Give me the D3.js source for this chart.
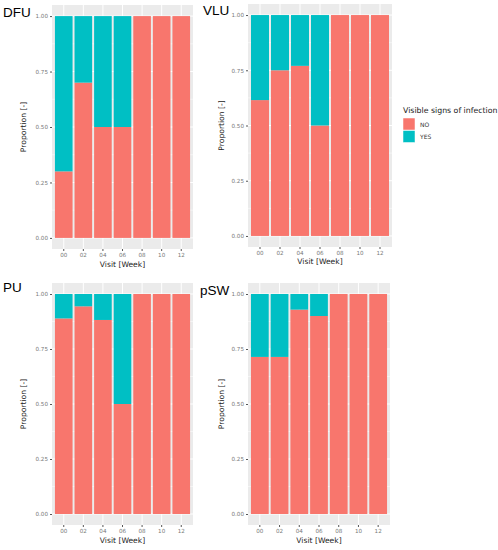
<!DOCTYPE html>
<html>
<head>
<meta charset="utf-8">
<script src="https://cdn.jsdelivr.net/npm/d3@7"></script>
<style>
  body { margin: 0; background: #fff; }
  svg { display: block; }
</style>
</head>
<body>
<svg class="chart" width="498" height="550"></svg>
<script>
// visits on the x axis
var weeks = ["00", "02", "04", "06", "08", "10", "12"];
var groups = ["NO", "YES"];
var yTicks = [0, 0.25, 0.5, 0.75, 1];
var yTickLabels = ["0.00", "0.25", "0.50", "0.75", "1.00"];

// proportion per visit
var noDFU  = [0.30, 0.70, 0.50, 0.50, 1, 1, 1];
var yesDFU = [0.70, 0.30, 0.50, 0.50, 0, 0, 0];
var noVLU  = [0.615, 0.75, 0.77, 0.50, 1, 1, 1];
var yesVLU = [0.385, 0.25, 0.23, 0.50, 0, 0, 0];
var noPU   = [0.889, 0.944, 0.882, 0.50, 1, 1, 1];
var yesPU  = [0.111, 0.056, 0.118, 0.50, 0, 0, 0];
var noPSW  = [0.714, 0.714, 0.929, 0.90, 1, 1, 1];
var yesPSW = [0.286, 0.286, 0.071, 0.10, 0, 0, 0];

var fill = d3.scaleOrdinal().domain(groups).range(["#F8766D", "#00BFC4"]);

var svg = d3.select("svg.chart");
var tickFont = "'DejaVu Sans', sans-serif";

var panel = function(title, no, yes, box) {
  var data = weeks.map(function(w, i) { return {week: w, NO: no[i], YES: yes[i]}; });

  var x = d3.scaleBand()
    .domain(weeks)
    .range([box.left, box.right])
    .paddingInner(0.1)
    .paddingOuter(0.15);

  var y = d3.scaleLinear()
    .domain([-0.05, 1.05])
    .range([box.bottom, box.top]);

  var g = svg.append("g");

  // panel background + grid
  g.append("rect")
    .attr("x", box.left).attr("y", box.top)
    .attr("width", box.right - box.left).attr("height", box.bottom - box.top)
    .attr("fill", "#EBEBEB");

  g.append("g").selectAll("line")
    .data([0.125, 0.375, 0.625, 0.875])
    .enter().append("line")
      .attr("x1", box.left).attr("x2", box.right)
      .attr("y1", function(d) { return y(d); }).attr("y2", function(d) { return y(d); })
      .attr("stroke", "#fff").attr("stroke-width", 0.5);

  g.append("g").selectAll("line")
    .data(yTicks)
    .enter().append("line")
      .attr("x1", box.left).attr("x2", box.right)
      .attr("y1", function(d) { return y(d); }).attr("y2", function(d) { return y(d); })
      .attr("stroke", "#fff").attr("stroke-width", 1);

  g.append("g").selectAll("line")
    .data(weeks)
    .enter().append("line")
      .attr("x1", function(d) { return x(d) + x.bandwidth() / 2; })
      .attr("x2", function(d) { return x(d) + x.bandwidth() / 2; })
      .attr("y1", box.top).attr("y2", box.bottom)
      .attr("stroke", "#fff").attr("stroke-width", 1);

  // stacked bars, NO at the bottom
  var series = d3.stack().keys(groups)(data);

  g.append("g")
    .selectAll("g")
    .data(series)
    .enter().append("g")
      .attr("fill", function(d) { return fill(d.key); })
    .selectAll("rect")
    .data(function(d) { return d; })
    .enter().append("rect")
      .attr("x", function(d) { return x(d.data.week); })
      .attr("y", function(d) { return y(d[1]); })
      .attr("width", x.bandwidth())
      .attr("height", function(d) { return y(d[0]) - y(d[1]); });

  // axes
  var ax = g.append("g")
    .attr("transform", "translate(0," + box.bottom + ")")
    .call(d3.axisBottom(x).tickSize(2).tickPadding(2));
  var ay = g.append("g")
    .attr("transform", "translate(" + box.left + ",0)")
    .call(d3.axisLeft(y).tickValues(yTicks).tickFormat(function(d, i) { return yTickLabels[i]; }).tickSize(2).tickPadding(2));

  [ax, ay].forEach(function(a) {
    a.select(".domain").remove();
    a.selectAll("line").attr("stroke", "#555");
    a.selectAll("text").attr("fill", "#777").style("font-family", tickFont).style("font-size", "5.6px");
  });

  g.append("text")
    .attr("x", (box.left + box.right) / 2)
    .attr("y", box.xTitle)
    .attr("text-anchor", "middle")
    .style("font-family", tickFont).style("font-size", "7.6px").attr("fill", "#222")
    .text("Visit [Week]");

  g.append("text")
    .attr("transform", "translate(" + box.yTitle + "," + ((box.top + box.bottom) / 2) + ") rotate(-90)")
    .attr("text-anchor", "middle")
    .style("font-family", tickFont).style("font-size", "7.6px").attr("fill", "#222")
    .text("Proportion [-]");

  g.append("text")
    .attr("x", box.tx).attr("y", box.ty)
    .style("font-family", "'Liberation Sans', Arial, sans-serif").style("font-size", "13.5px")
    .attr("fill", "#000")
    .text(title);
};

panel("DFU", noDFU, yesDFU, {left: 52, right: 193, top: 5, bottom: 249, xTitle: 267, yTitle: 26, tx: 3, ty: 17});
panel("VLU", noVLU, yesVLU, {left: 248, right: 392, top: 4, bottom: 247, xTitle: 264, yTitle: 224, tx: 203, ty: 15});
panel("PU", noPU, yesPU, {left: 52, right: 193, top: 283, bottom: 525, xTitle: 543, yTitle: 26, tx: 3, ty: 292});
panel("pSW", noPSW, yesPSW, {left: 248, right: 390, top: 283, bottom: 525, xTitle: 543, yTitle: 224, tx: 200, ty: 295});

// legend
var legend = svg.append("g").attr("transform", "translate(403,0)");
legend.append("text")
  .attr("x", 0).attr("y", 113)
  .style("font-family", tickFont).style("font-size", "7.8px").attr("fill", "#222")
  .text("Visible signs of infection");
legend.selectAll("rect")
  .data(groups)
  .enter().append("rect")
    .attr("x", 0)
    .attr("y", function(d, i) { return 118 + i * 12.5; })
    .attr("width", 12).attr("height", 12)
    .attr("fill", function(d) { return fill(d); })
    .attr("stroke", "#fff").attr("stroke-width", 0.5);
legend.selectAll("text.key")
  .data(groups)
  .enter().append("text")
    .attr("class", "key")
    .attr("x", 17)
    .attr("y", function(d, i) { return 126.5 + i * 12.5; })
    .style("font-family", tickFont).style("font-size", "6px").attr("fill", "#333")
    .text(function(d) { return d; });
</script>
</body>
</html>
